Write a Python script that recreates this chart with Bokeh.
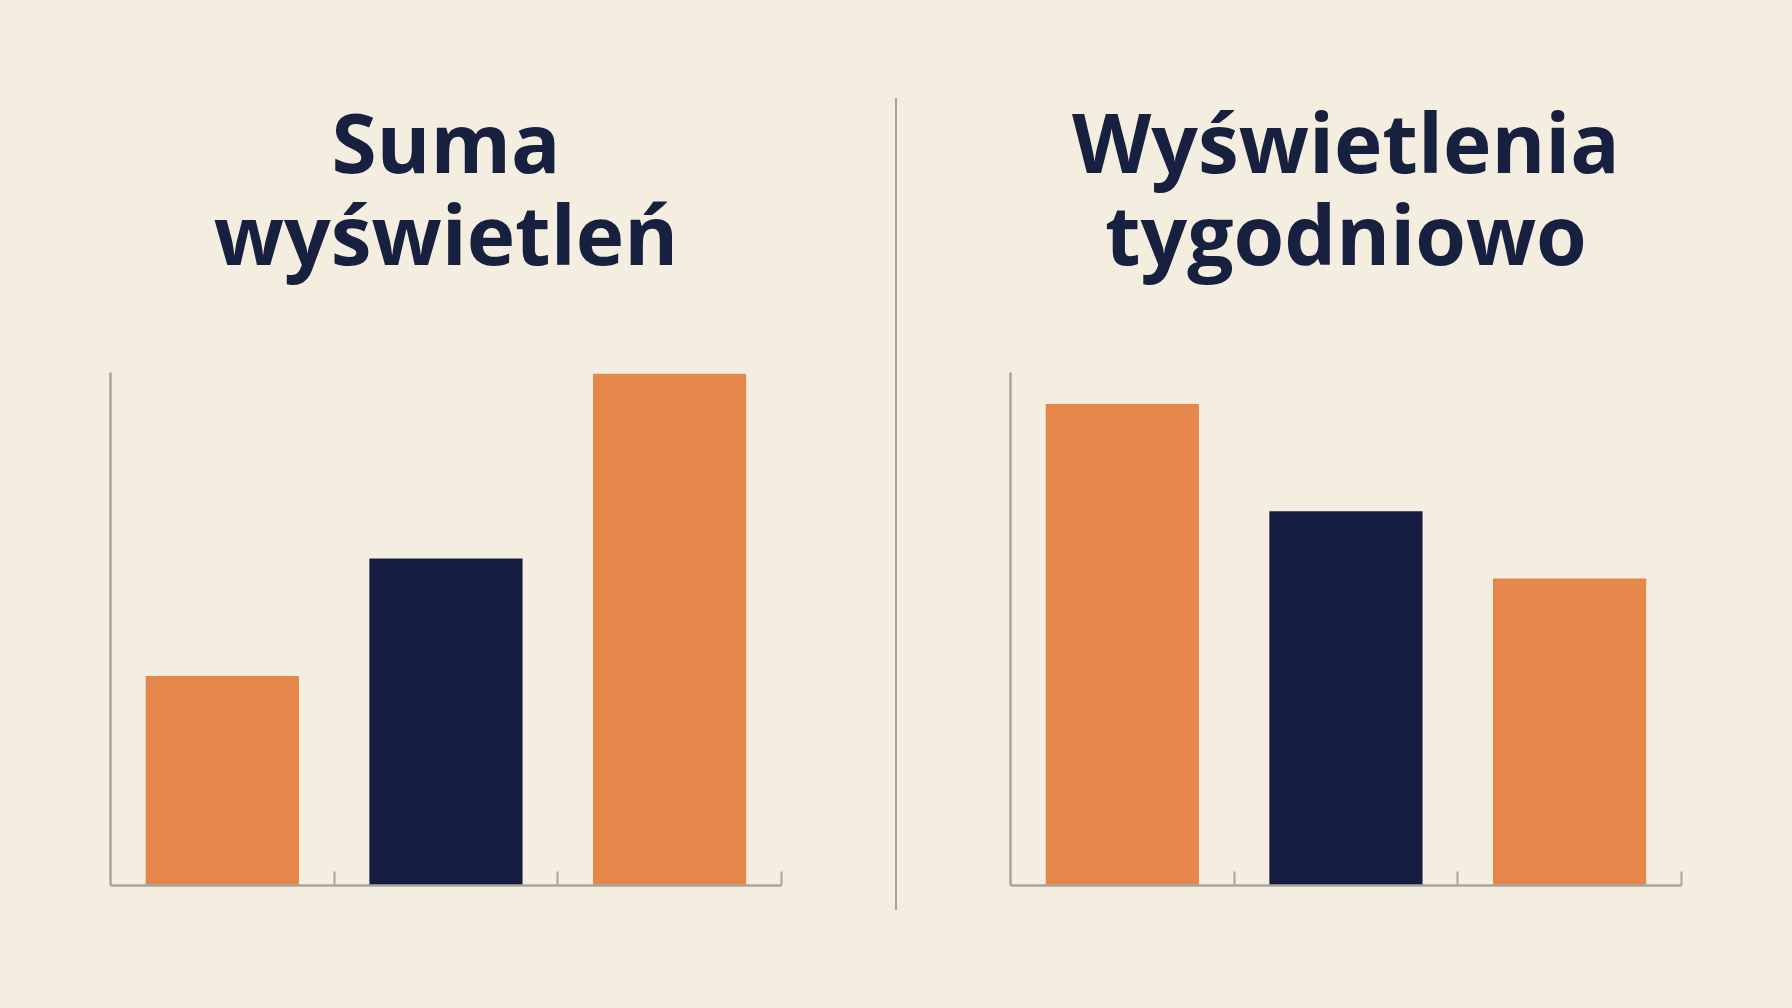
from bokeh.plotting import figure
from bokeh.layouts import row
from bokeh.models import Range1d, FixedTicker, Div
from bokeh.core.properties import value
from bokeh.embed import file_html
from bokeh.resources import INLINE

# ---- data ----
left_title = ["Suma", "wyświetleń"]
right_title = ["Wyświetlenia", "tygodniowo"]
categories = ["A", "B", "C"]
left_values = [40.8, 63.7, 99.7]
right_values = [93.8, 72.9, 59.8]
axis_max = 100
bar_colors = ["#E5874B", "#141C42", "#E5874B"]

# ---- style / geometry (page pixels, body margin set to 0) ----
BG = "#F4EEE0"
AXIS_C = "#A8A49B"
TITLE_C = "#18203F"
FONT = "Open Sans"

FIG_H = 1000
BASE_Y = 885              # page y of x axis
AXIS_TOP_Y = 371.7        # page y of y-axis top
AXIS_H_PX = BASE_Y - AXIS_TOP_Y
AXIS_PX = 670.9           # x-axis pixel length
BORDER_B = FIG_H - BASE_Y
x_per_px = len(categories) / AXIS_PX
y_per_px = axis_max / AXIS_H_PX
TEXT_SHIFT = 34.0         # empirical baseline correction (px)
TITLE_BASE_PX = [174.9, 266.3]


def panel(title_lines, values, fig_w, border_l):
    frame_w = fig_w - border_l
    frame_h = FIG_H - BORDER_B
    p = figure(width=fig_w, height=FIG_H, output_backend="svg", toolbar_location=None,
               x_range=Range1d(0, frame_w * x_per_px), y_range=Range1d(0, frame_h * y_per_px),
               min_border_left=border_l, min_border_bottom=BORDER_B,
               min_border_top=0, min_border_right=0, margin=0)
    p.background_fill_color = BG
    p.border_fill_color = BG
    p.outline_line_color = None
    p.grid.visible = False
    xs = [i + 0.5 for i in range(len(categories))]
    p.vbar(x=xs, top=values, bottom=0, width=0.685, color=bar_colors, line_color=None)

    for ax in p.xaxis:
        ax.bounds = (0, len(categories))
        ax.ticker = FixedTicker(ticks=list(range(1, len(categories) + 1)))
        ax.major_tick_in = 14
        ax.major_tick_out = 0
        ax.minor_tick_line_color = None
        ax.major_label_text_color = None
        ax.axis_line_color = AXIS_C
        ax.axis_line_width = 2.5
        ax.major_tick_line_color = AXIS_C
        ax.major_tick_line_width = 2
    for ax in p.yaxis:
        ax.bounds = (0, axis_max)
        ax.ticker = FixedTicker(ticks=[])
        ax.major_label_text_color = None
        ax.minor_tick_line_color = None
        ax.major_tick_line_color = None
        ax.axis_line_color = AXIS_C
        ax.axis_line_width = 2.5

    cx = len(categories) / 2
    ys = [(BASE_Y - (py - TEXT_SHIFT)) * y_per_px for py in TITLE_BASE_PX]
    p.text(x=[cx, cx], y=ys, text=title_lines, text_align="center",
           text_baseline="alphabetic", text_font=value(FONT), text_font_style="bold",
           text_font_size="82px", text_color=TITLE_C)
    return p


left = panel(left_title, left_values, 884, 110)
right = panel(right_title, right_values, 876, 102)

divider = Div(width=24, height=FIG_H, margin=0,
              text='<div style="margin-left:11px;margin-top:98px;width:0;height:812px;'
                   'border-left:2px solid %s;"></div>' % AXIS_C,
              styles={"background-color": BG, "padding": "0"})

layout = row(left, divider, right)
layout.styles = {"background-color": BG}

html = file_html(layout, INLINE)
html = html.replace("</head>",
                    "<style>html, body {margin:0; padding:0; background-color:%s;}</style></head>" % BG, 1)
open("out.html", "w").write(html)
